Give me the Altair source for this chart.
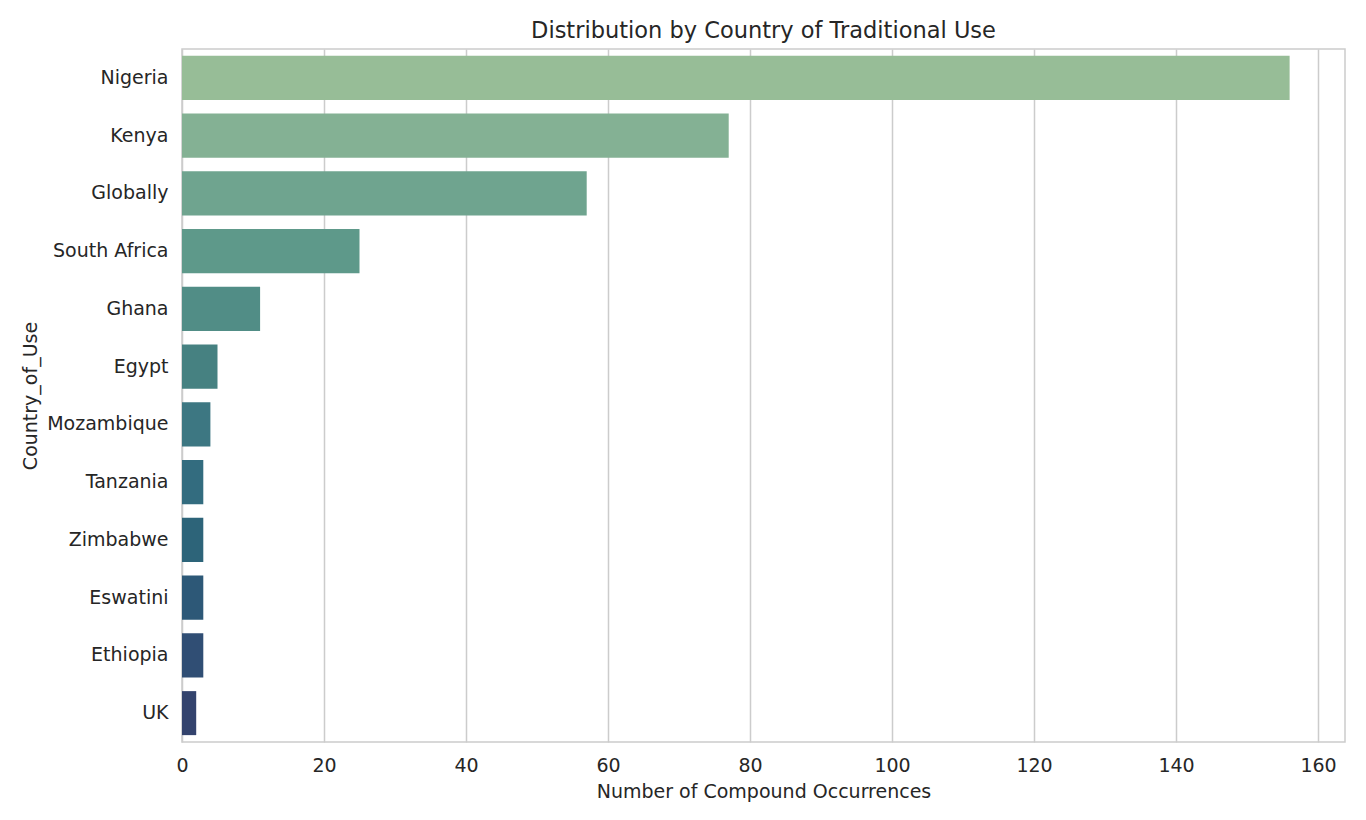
import pandas as pd
import altair as alt

# Countries and counts
countries = ["Nigeria", "Kenya", "Globally", "South Africa", "Ghana", "Egypt",
             "Mozambique", "Tanzania", "Zimbabwe", "Eswatini", "Ethiopia", "UK"]
counts = [156, 77, 57, 25, 11, 5, 4, 3, 3, 3, 3, 2]

# crest-like palette, light to dark
palette = ["#97bd97", "#84b194", "#6fa48f", "#5e998a", "#518d86", "#468181",
           "#3d7782", "#336c7f", "#2d6479", "#2d5877", "#304e74", "#33436d"]

df = pd.DataFrame({"Country_of_Use": countries, "count": counts})

text_color = "#262626"
font = "DejaVu Sans"

bars = alt.Chart(df).mark_bar().encode(
    y=alt.Y("Country_of_Use:N", sort=countries,
            scale=alt.Scale(paddingInner=0.238, paddingOuter=0.119),
            axis=alt.Axis(title="Country_of_Use", labelPadding=14, titlePadding=6,
                          grid=False, ticks=False, tickSize=0, domain=False)),
    x=alt.X("count:Q", scale=alt.Scale(domain=[0, 163.8], nice=False, zero=True),
            axis=alt.Axis(title="Number of Compound Occurrences",
                          values=[0, 20, 40, 60, 80, 100, 120, 140, 160],
                          labelPadding=14, titlePadding=7, grid=True, labelFlush=False,
                          ticks=False, tickSize=0, domain=False)),
    color=alt.Color("Country_of_Use:N", sort=countries,
                    scale=alt.Scale(domain=countries, range=palette), legend=None),
)

chart = bars.properties(
    width=1163,
    height=693,
    title=alt.Title("Distribution by Country of Traditional Use", fontSize=22.5,
                    font=font, color=text_color, fontWeight="normal", offset=7),
    autosize=alt.AutoSizeParams(type="none"),
    padding={"left": 174, "top": 41, "right": 10, "bottom": 60},
).configure_view(
    stroke="#cccccc", strokeWidth=1.5
).configure_axis(
    labelFont=font, titleFont=font, labelFontSize=19, titleFontSize=19,
    labelColor=text_color, titleColor=text_color, titleFontWeight="normal",
    gridColor="#cccccc", gridWidth=1.5
)

chart.save("out.html", embed_options={"renderer": "svg", "actions": False})
